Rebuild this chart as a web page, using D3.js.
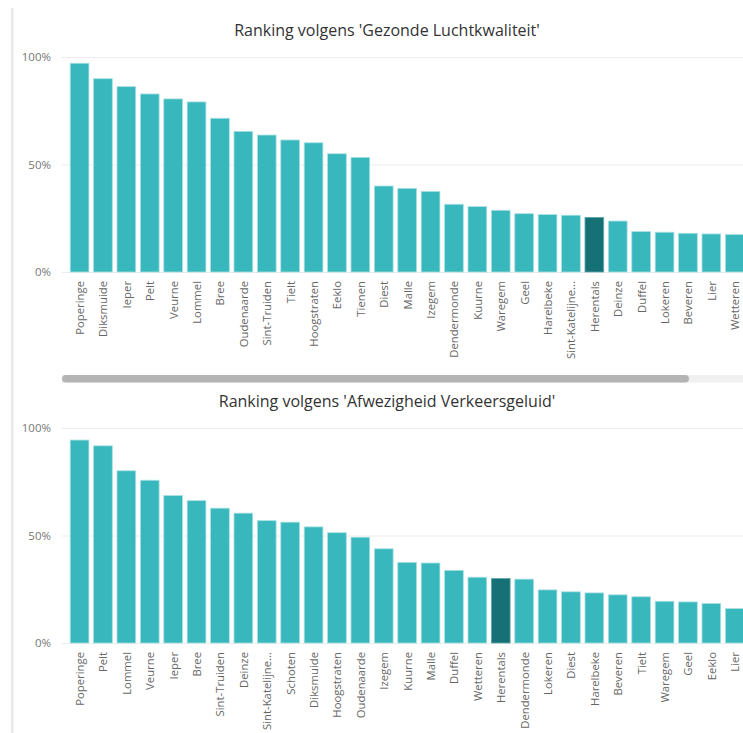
<!DOCTYPE html>
<html>
<head>
<meta charset="utf-8">
<script src="https://cdn.jsdelivr.net/npm/d3@7"></script>
<style>
  body { margin: 0; background: #fff; }
  svg { display: block; font-family: "Segoe UI", "Open Sans", sans-serif; }
</style>
</head>
<body>
<div id="chart"></div>
<script>
/* data: ranking 'Gezonde Luchtkwaliteit' */
var luchtSteden = ["Poperinge", "Diksmuide", "Ieper", "Pelt", "Veurne", "Lommel", "Bree", "Oudenaarde",
  "Sint-Truiden", "Tielt", "Hoogstraten", "Eeklo", "Tienen", "Diest", "Malle", "Izegem", "Dendermonde",
  "Kuurne", "Waregem", "Geel", "Harelbeke", "Sint-Katelijne...", "Herentals", "Deinze", "Duffel",
  "Lokeren", "Beveren", "Lier", "Wetteren"];
var luchtWaarden = [0.971, 0.899, 0.862, 0.828, 0.805, 0.791, 0.715, 0.654, 0.637, 0.614, 0.601, 0.550,
  0.533, 0.400, 0.389, 0.375, 0.315, 0.304, 0.287, 0.271, 0.267, 0.264, 0.254, 0.237, 0.188, 0.185,
  0.180, 0.177, 0.174];

/* data: ranking 'Afwezigheid Verkeersgeluid' */
var geluidSteden = ["Poperinge", "Pelt", "Lommel", "Veurne", "Ieper", "Bree", "Sint-Truiden", "Deinze",
  "Sint-Katelijne...", "Schoten", "Diksmuide", "Hoogstraten", "Oudenaarde", "Izegem", "Kuurne", "Malle",
  "Duffel", "Wetteren", "Herentals", "Dendermonde", "Lokeren", "Diest", "Harelbeke", "Beveren", "Tielt",
  "Waregem", "Geel", "Eeklo", "Lier"];
var geluidWaarden = [0.944, 0.917, 0.801, 0.757, 0.686, 0.662, 0.627, 0.604, 0.569, 0.562, 0.540, 0.513,
  0.492, 0.438, 0.375, 0.372, 0.338, 0.306, 0.300, 0.297, 0.247, 0.238, 0.233, 0.224, 0.215, 0.194,
  0.191, 0.184, 0.160];

/* axis ticks */
var yTicks = [0, 0.5, 1];
var gemarkeerd = "Herentals";

var W = 743, H = 733;
var kleur = "#38b7bd", kleurDonker = "#167176";

var svg = d3.select("#chart").append("svg")
  .attr("width", W)
  .attr("height", H);

/* light frame line on the left */
svg.append("rect")
  .attr("x", 11).attr("y", 8)
  .attr("width", 2.5).attr("height", H - 8)
  .attr("fill", "#e8e8e8");

/* draws one ranking chart */
function tekenGrafiek(titel, steden, waarden, titelY, yTop, yNul) {
  var g = svg.append("g");
  var step = 23.4;
  var plotLinks = 62;

  var x = d3.scaleBand()
    .domain(steden)
    .range([plotLinks, plotLinks + step * (steden.length - 0.2 + 0.7)])
    .paddingInner(0.2)
    .paddingOuter(0.35);

  var y = d3.scaleLinear().domain([0, 1]).range([yNul, yTop]);

  /* title */
  g.append("text")
    .attr("x", 387)
    .attr("y", titelY)
    .attr("text-anchor", "middle")
    .attr("dominant-baseline", "central")
    .style("font-size", "16px")
    .style("fill", "#333")
    .text(titel);

  /* gridlines */
  g.append("g")
    .attr("transform", "translate(" + plotLinks + ",0)")
    .call(d3.axisLeft(y).tickValues(yTicks).tickSize(-(W - plotLinks)).tickFormat(""))
    .call(function (s) {
      s.select(".domain").remove();
      s.selectAll("line").attr("stroke", "#ececec").attr("stroke-width", 1);
    });

  /* y axis labels */
  g.append("g")
    .attr("transform", "translate(51,0)")
    .call(d3.axisLeft(y).tickValues(yTicks).tickSize(0).tickPadding(0).tickFormat(d3.format(".0%")))
    .call(function (s) {
      s.select(".domain").remove();
      s.selectAll("text").style("font-size", "11.5px").style("fill", "#777")
        .style("font-family", "'Segoe UI', 'Open Sans', sans-serif");
    });

  /* bars */
  g.selectAll("rect.bar")
    .data(steden)
    .enter().append("rect")
    .attr("class", "bar")
    .attr("x", function (d) { return x(d); })
    .attr("y", function (d, i) { return y(waarden[i]); })
    .attr("width", x.bandwidth())
    .attr("height", function (d, i) { return yNul - y(waarden[i]); })
    .attr("fill", function (d) { return d === gemarkeerd ? kleurDonker : kleur; })
    .attr("stroke", function (d) { return d === gemarkeerd ? "#5fa8ab" : "#a8e0e2"; })
    .attr("stroke-width", 0.8);

  /* x axis labels */
  g.append("g")
    .attr("transform", "translate(0," + (yNul + 9) + ")")
    .call(d3.axisBottom(x).tickSize(0).tickPadding(0))
    .call(function (s) {
      s.select(".domain").remove();
      s.selectAll("text")
        .attr("transform", "rotate(-90)")
        .attr("text-anchor", "end")
        .attr("dominant-baseline", "central")
        .attr("x", 0).attr("y", 0).attr("dy", null)
        .style("font-size", "11.3px")
        .style("fill", "#666")
        .style("font-family", "'Segoe UI', 'Open Sans', sans-serif");
    });
}

tekenGrafiek("Ranking volgens 'Gezonde Luchtkwaliteit'", luchtSteden, luchtWaarden, 30, 57, 272);

/* horizontal scrollbar of the first chart */
svg.append("rect")
  .attr("x", 62).attr("y", 375)
  .attr("width", W - 62).attr("height", 7.5)
  .attr("fill", "#f0f0f0");
svg.append("rect")
  .attr("x", 62).attr("y", 375)
  .attr("width", 627).attr("height", 7.5)
  .attr("rx", 3.75)
  .attr("fill", "#b4b4b4");

tekenGrafiek("Ranking volgens 'Afwezigheid Verkeersgeluid'", geluidSteden, geluidWaarden, 401, 428, 643);
</script>
</body>
</html>
